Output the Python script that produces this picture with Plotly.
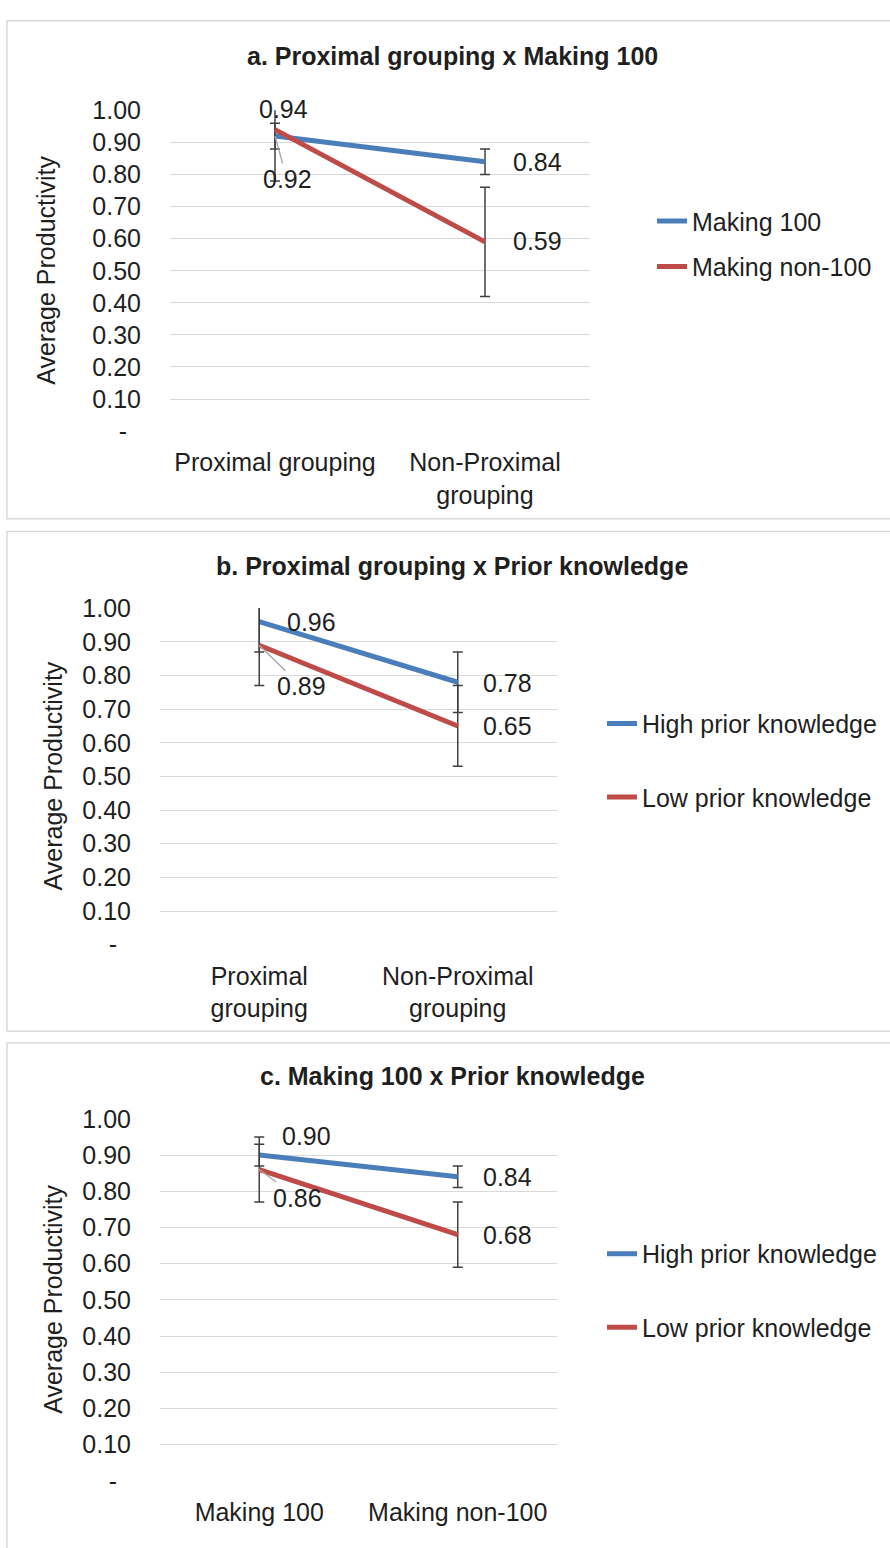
import plotly.graph_objects as go

W, H = 890, 1548

# ---------------- data ----------------
cats_a = ["Proximal grouping", "Non-Proximal<br>grouping"]
making100 = [0.92, 0.84]
making100_err = [0.04, 0.04]
making_non100 = [0.94, 0.59]
making_non100_err = [0.16, 0.17]

cats_b = ["Proximal<br>grouping", "Non-Proximal<br>grouping"]
high_b = [0.96, 0.78]
high_b_err = [0.09, 0.09]
low_b = [0.89, 0.65]
low_b_err = [0.12, 0.12]

cats_c = ["Making 100", "Making non-100"]
high_c = [0.90, 0.84]
high_c_err = [0.03, 0.03]
low_c = [0.86, 0.68]
low_c_err = [0.09, 0.09]

y_tick_vals = [0.0, 0.1, 0.2, 0.3, 0.4, 0.5, 0.6, 0.7, 0.8, 0.9, 1.0]
y_tick_text = ["-\u00a0\u00a0", "0.10", "0.20", "0.30", "0.40", "0.50",
               "0.60", "0.70", "0.80", "0.90", "1.00"]

titles = ["a. Proximal grouping x Making 100",
          "b. Proximal grouping x Prior knowledge",
          "c. Making 100 x Prior knowledge"]
y_title = "Average Productivity"

# ---------------- styles ----------------
FONT = "Liberation Sans, Arial, sans-serif"
TXT = "#1f1f1f"
BLUE = "#4A7EBB"
RED = "#BE4B48"
GRID = "#d9d9d9"
FS = 25


def px(x):
    return x / W


def py(y):
    return 1 - y / H


panels = [
    dict(cats=cats_a, series=[("Making 100", making100, making100_err, BLUE),
                              ("Making non-100", making_non100, making_non100_err, RED)],
         x0=170, x1=590, ytop=98, yzero=425, box=(7, 7, 900, 514),
         title_y=43, ytitle_x=46, leg_x=652, leg_y=234, leg_gap=10,
         offsets=[[(12, 43, True), (52, 0, False)],
                  [(8, -21, False), (52, -1, False)]]),
    dict(cats=cats_b, series=[("High prior knowledge", high_b, high_b_err, BLUE),
                              ("Low prior knowledge", low_b, low_b_err, RED)],
         x0=160, x1=557, ytop=605, yzero=948, box=(7, 527, 900, 1036),
         title_y=562, ytitle_x=53, leg_x=602, leg_y=760, leg_gap=38,
         offsets=[[(52, 0, False), (50, 1, False)],
                  [(42, 41, True), (50, 0, False)]]),
    dict(cats=cats_c, series=[("High prior knowledge", high_c, high_c_err, BLUE),
                              ("Low prior knowledge", low_c, low_c_err, RED)],
         x0=160, x1=557, ytop=1125, yzero=1494, box=(7, 1048, 900, 1600),
         title_y=1082, ytitle_x=53, leg_x=602, leg_y=1300, leg_gap=38,
         offsets=[[(47, -19, False), (50, 0, False)],
                  [(38, 28, True), (50, 0, False)]]),
]

fig = go.Figure()
annotations = []
shapes = []
layout = {}

for i, p in enumerate(panels):
    n = "" if i == 0 else str(i + 1)
    xa, ya = "x" + n, "y" + n
    leg = "legend" + n
    for j, (name, vals, errs, col) in enumerate(p["series"]):
        fig.add_trace(go.Scatter(
            x=p["cats"], y=vals, name=name, mode="lines",
            line=dict(color=col, width=5),
            error_y=dict(type="data", array=errs, visible=True,
                         color="#404040", thickness=1.5, width=5),
            xaxis=xa, yaxis=ya, legend=leg, legendgroup=f"{i}-{j}",
            hoverinfo="skip"))
        for k, v in enumerate(vals):
            dx, dy, leader = p["offsets"][j][k]
            a = dict(x=p["cats"][k], y=v, xref=xa, yref=ya, text=f"{v:.2f}",
                     font=dict(family=FONT, size=FS, color=TXT))
            if leader:
                a.update(showarrow=True, ax=dx, ay=dy, arrowhead=0,
                         arrowwidth=1.3, arrowcolor="#a6a6a6", standoff=0)
            else:
                a.update(showarrow=False, xshift=dx, yshift=-dy)
            annotations.append(a)

    layout["xaxis" + n] = dict(
        domain=[px(p["x0"]), px(p["x1"])], anchor=ya, range=[-0.5, 1.5],
        showgrid=False, zeroline=False, showline=False, ticks="",
        ticklabelstandoff=14,
        tickfont=dict(family=FONT, size=FS, color=TXT))
    layout["yaxis" + n] = dict(
        domain=[py(p["yzero"]), py(p["ytop"])], anchor=xa,
        range=[-0.0005, 1.0005], tickvals=y_tick_vals, ticktext=y_tick_text,
        showgrid=True, gridcolor=GRID, gridwidth=1.3, zeroline=False,
        showline=False, ticks="", ticklabelstandoff=28,
        tickfont=dict(family=FONT, size=FS, color=TXT))
    layout[leg] = dict(
        x=px(p["leg_x"]), y=py(p["leg_y"]), xanchor="left", yanchor="middle",
        traceorder="grouped", tracegroupgap=p["leg_gap"],
        font=dict(family=FONT, size=FS, color=TXT), bgcolor="rgba(0,0,0,0)")

    bx0, by0, bx1, by1 = p["box"]
    shapes.append(dict(type="rect", xref="paper", yref="paper",
                       x0=px(bx0), x1=px(bx1), y0=py(by1), y1=py(by0),
                       line=dict(color=GRID, width=1.5), layer="below"))
    annotations.append(dict(xref="paper", yref="paper", x=px(452), y=py(p["title_y"]),
                            text=f"<b>{titles[i]}</b>", showarrow=False,
                            xanchor="center", yanchor="middle",
                            font=dict(family=FONT, size=FS, color=TXT)))
    annotations.append(dict(xref="paper", yref="paper", x=px(p["ytitle_x"]),
                            y=py((p["ytop"] + p["yzero"]) / 2), text=y_title,
                            textangle=-90, showarrow=False,
                            xanchor="center", yanchor="middle",
                            font=dict(family=FONT, size=FS, color=TXT)))

fig.update_layout(
    width=W, height=H, margin=dict(l=0, r=0, t=0, b=0),
    paper_bgcolor="white", plot_bgcolor="white",
    showlegend=True, annotations=annotations, shapes=shapes,
    font=dict(family=FONT, size=FS, color=TXT),
    **layout)

fig.write_html("out.html")
